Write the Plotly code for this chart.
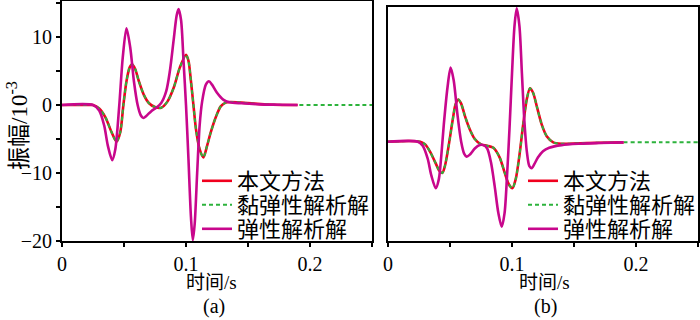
import plotly.graph_objects as go

# ---------------- data (amplitude in 1e-3) ----------------
# Panel (a)
t_visco_a = [0, 0.02, 0.025, 0.03, 0.035, 0.04, 0.044, 0.047, 0.0495, 0.052, 0.0545, 0.0565, 0.059, 0.062,
             0.066, 0.07, 0.075, 0.08, 0.085, 0.09, 0.095, 0.1, 0.102, 0.104, 0.106, 0.108, 0.111, 0.114,
             0.117, 0.12, 0.124, 0.128, 0.132, 0.136, 0.145, 0.155, 0.17, 0.19, 0.22, 0.25]
v_visco_a = [0, 0, 0, -0.5, -1.8, -4.0, -5.4, -4.0, 0, 3.5, 5.5, 6.0, 5.3, 3.5,
             1.5, 0.3, -0.3, -0.4, 0.5, 2.5, 5.5, 7.4, 6.5, 3.5, 0, -3.5, -6.5, -7.7,
             -6.0, -4.0, -1.8, -0.2, 0.35, 0.45, 0.35, 0.2, 0.05, 0, 0, 0]

t_elastic_a = [0, 0.025, 0.03, 0.034, 0.037, 0.0405, 0.043, 0.0462, 0.049, 0.052, 0.055, 0.058, 0.061,
               0.0635, 0.0656, 0.068, 0.072, 0.076, 0.08, 0.084, 0.087, 0.09, 0.0925, 0.094, 0.096, 0.098,
               0.1, 0.102, 0.104, 0.1055, 0.107, 0.109, 0.111, 0.113, 0.116, 0.1185, 0.121, 0.125, 0.13,
               0.135, 0.145, 0.16, 0.175, 0.19]
v_elastic_a = [0, 0, -0.8, -3.0, -6.0, -8.1, -6.5, 0, 7.0, 11.3, 8.5, 3.5, 0.0,
               -1.5, -1.9, -1.6, -0.9, -0.4, 0.3, 2.0, 5.0, 9.5, 13.2, 14.1, 12.5, 6.5,
               0, -8.0, -16.5, -19.9, -17.5, -10.0, -3.0, 0.5, 3.0, 3.5, 3.0, 1.8, 0.8,
               0.4, 0.25, 0.1, 0.05, 0]

# Panel (b)
t_visco_b = [0, 0.026, 0.03, 0.034, 0.038, 0.0415, 0.0438, 0.046, 0.049, 0.052, 0.0545, 0.0567, 0.059,
             0.062, 0.066, 0.07, 0.075, 0.08, 0.085, 0.09, 0.094, 0.0975, 0.1003, 0.103, 0.106, 0.109,
             0.112, 0.1145, 0.117, 0.12, 0.124, 0.128, 0.1333, 0.14, 0.16, 0.19, 0.22, 0.25]
v_visco_b = [0, 0, -0.4, -1.5, -3.0, -4.3, -4.6, -3.5, -0.5, 3.0, 5.5, 6.2, 5.6,
             3.8, 1.8, 0.4, -0.4, -0.6, -0.9, -2.3, -4.5, -6.3, -6.85, -5.5, -2.0, 2.5,
             6.3, 7.85, 7.2, 5.2, 2.5, 0.8, -0.1, -0.3, -0.2, -0.1, -0.1, -0.1]

t_elastic_b = [0, 0.024, 0.028, 0.032, 0.035, 0.0385, 0.041, 0.043, 0.045, 0.048, 0.0505, 0.053, 0.056,
               0.059, 0.0615, 0.0634, 0.066, 0.07, 0.074, 0.077, 0.08, 0.083, 0.086, 0.089, 0.0917,
               0.094, 0.096, 0.098, 0.1, 0.102, 0.1038, 0.106, 0.108, 0.11, 0.112, 0.114, 0.116, 0.118,
               0.121, 0.125, 0.13, 0.14, 0.155, 0.17, 0.19]
v_elastic_b = [0, 0, -0.6, -2.5, -5.0, -6.85, -5.5, -2.0, 2.5, 8.0, 10.9, 9.0, 4.0,
               0.0, -1.8, -2.2, -1.9, -1.0, -0.5, -0.5, -1.0, -3.0, -6.5, -10.5, -12.5,
               -10.5, -5.0, 2.0, 10.0, 17.0, 19.6, 17.0, 10.0, 3.0, -1.5, -3.6, -3.9, -3.3,
               -2.3, -1.4, -0.9, -0.5, -0.3, -0.2, -0.1]

t_method_end = 0.19  # 本文方法 curve drawn up to this time

names = ["本文方法", "黏弹性解析解", "弹性解析解"]
x_tickvals = [0, 0.05, 0.1, 0.15, 0.2, 0.25]
x_ticktext = ["0", "", "0.1", "", "0.2", ""]
y_tickvals = [-20, -15, -10, -5, 0, 5, 10, 15]
y_ticktext = ["−20", "", "−10", "", "0", "", "10", ""]

# ---------------- figure ----------------
W, H = 700, 320
SERIF = "Times New Roman, Liberation Serif, Noto Sans CJK SC, serif"
RED = "#F0001E"
GREEN = "#2DB33C"
MAGENTA = "#C8078C"


def px_x(p):
    return p / W


def px_y(p):
    return 1 - p / H


fig = go.Figure()


def add_panel(tv, vv, te, ve, xa, ya, legends):
    tm = [t for t in tv if t <= t_method_end]
    vm = vv[:len(tm)]
    fig.add_trace(go.Scatter(x=tm, y=vm, mode="lines", name=names[0], xaxis=xa, yaxis=ya,
                             line=dict(color=RED, width=2.6, shape="spline", smoothing=0.8),
                             legend=legends[0]))
    fig.add_trace(go.Scatter(x=tv, y=vv, mode="lines", name=names[1], xaxis=xa, yaxis=ya,
                             line=dict(color=GREEN, width=2, dash="4px,3px", shape="spline", smoothing=0.8),
                             legend=legends[1]))
    fig.add_trace(go.Scatter(x=te, y=ve, mode="lines", name=names[2], xaxis=xa, yaxis=ya,
                             line=dict(color=MAGENTA, width=2.6, shape="spline", smoothing=0.8),
                             legend=legends[2]))


add_panel(t_visco_a, v_visco_a, t_elastic_a, v_elastic_a, "x", "y", ["legend", "legend2", "legend3"])
add_panel(t_visco_b, v_visco_b, t_elastic_b, v_elastic_b, "x2", "y2", ["legend4", "legend5", "legend6"])

axis_common = dict(showgrid=False, zeroline=False, showline=True, linecolor="black", linewidth=2,
                   mirror=True, automargin=False, tickfont=dict(family=SERIF, size=20, color="black"))

legend_common = dict(xanchor="left", yanchor="middle", xref="container", yref="container",
                     bgcolor="rgba(0,0,0,0)", borderwidth=0, tracegroupgap=0,
                     font=dict(family=SERIF, size=22, color="black"))

row_y = [181, 205, 229]
legends = {}
for i, ry in enumerate(row_y):
    legends["legend" if i == 0 else f"legend{i + 1}"] = dict(x=px_x(197), y=px_y(ry), **legend_common)
    legends[f"legend{i + 4}"] = dict(x=px_x(523), y=px_y(ry), **legend_common)


def label(text, x, y, size, angle=0):
    return dict(text=text, x=px_x(x), y=px_y(y), xref="paper", yref="paper",
                xanchor="center", yanchor="middle", textangle=angle, showarrow=False,
                font=dict(family=SERIF, size=size, color="black"))


fig.update_layout(
    width=W, height=H,
    showlegend=True,
    margin=dict(l=0, r=0, t=0, b=0, autoexpand=False),
    paper_bgcolor="white", plot_bgcolor="white",
    xaxis=dict(domain=[px_x(62), px_x(372)], range=[0, 0.25], anchor="y",
               tickvals=x_tickvals, ticktext=x_ticktext, ticks="outside", ticklen=4, tickwidth=2,
               tickcolor="black", **axis_common),
    yaxis=dict(domain=[px_y(241), px_y(1)], range=[-20, 15.3], anchor="x",
               tickvals=y_tickvals, ticktext=y_ticktext, ticks="outside", ticklen=4, tickwidth=2,
               tickcolor="black", **axis_common),
    xaxis2=dict(domain=[px_x(388), px_x(698)], range=[0, 0.25], anchor="y2",
                tickvals=x_tickvals, ticktext=x_ticktext, ticks="outside", ticklen=4, tickwidth=2,
                tickcolor="black", **axis_common),
    yaxis2=dict(domain=[px_y(241), px_y(7)], range=[-14.6, 19.8], anchor="x2",
                showticklabels=False, ticks="", **axis_common),
    annotations=[
        label("振幅/10<sup>-3</sup>", 17, 126, 23, -90),
        label("时间/s", 211, 282, 19),
        label("(a)", 214, 306, 20),
        label("时间/s", 544, 282, 19),
        label("(b)", 545, 306, 20),
    ],
    **legends,
)

fig.write_html("out.html", config={"displayModeBar": False},
               post_script="document.body.style.margin='0';document.body.style.padding='0';")
